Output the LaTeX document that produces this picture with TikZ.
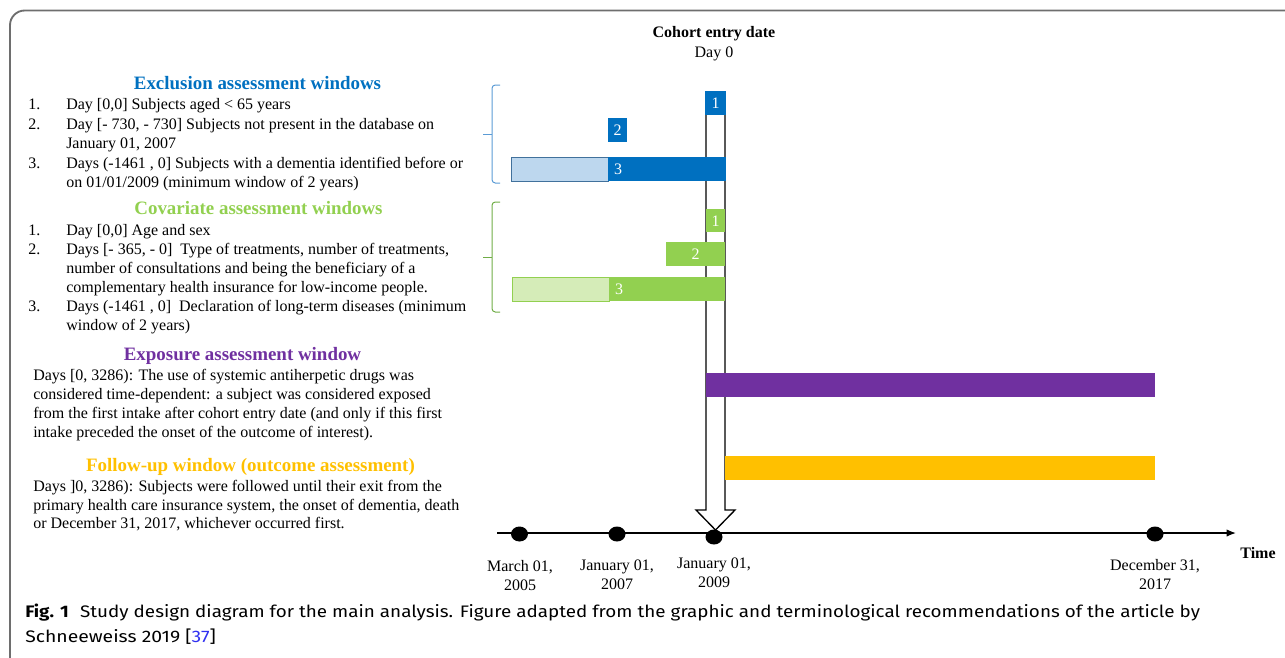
\documentclass[tikz,border=0pt]{standalone}
\usepackage{graphicx}
\usepackage{fontspec}
\setmainfont{Liberation Serif}
\newfontfamily\capfont{Fira Sans}
\usetikzlibrary{arrows.meta,shapes.geometric}
\definecolor{exblue}{HTML}{0070C0}
\definecolor{exlight}{HTML}{BDD7EE}
\definecolor{exborder}{HTML}{41719C}
\definecolor{brblue}{HTML}{5B9BD5}
\definecolor{covgreen}{HTML}{92D050}
\definecolor{covlight}{HTML}{D5ECB8}
\definecolor{brgreen}{HTML}{70AD47}
\definecolor{expurple}{HTML}{7030A0}
\definecolor{fuyellow}{HTML}{FFC000}
\definecolor{framegray}{HTML}{6E6E6E}
\definecolor{linkblue}{HTML}{3030F0}
\begin{document}
\begin{tikzpicture}[x=0.75pt,y=-0.75pt,
  body/.style={anchor=base west, inner sep=0pt, font=\fontsize{12}{14}\selectfont},
  head/.style={anchor=base, inner sep=0pt, font=\fontsize{14.2}{16}\selectfont\bfseries},
  num/.style={anchor=base, inner sep=0pt, text=white, font=\fontsize{12}{14}\selectfont},
  datelbl/.style={anchor=center, align=center, inner sep=0pt, font=\fontsize{12}{14.25}\selectfont},
  dot/.style={ellipse, fill=black, inner sep=0pt, minimum width=12.75pt, minimum height=11.25pt},
  brace/.style={line width=0.75pt, rounded corners=2.5pt},
  bararrow/.style={draw=black, fill=white, line width=1pt}
]
\useasboundingbox (0,0) rectangle (1285,657);
% frame
\draw[framegray, line width=1.4pt, rounded corners=11pt] (10,670) -- (10,10.5) -- (1300,10.5);

% title of axis
\node[anchor=base, inner sep=0pt, font=\fontsize{12}{14}\selectfont\bfseries] (cohort) at (714,37) {Cohort entry date};
\node[anchor=base, inner sep=0pt, font=\fontsize{12}{14}\selectfont] (day0) at (714,57) {Day 0};

% block arrow
\draw[bararrow] (706,92) -- (706,510) -- (696,510) -- (715.5,530) -- (735,510) -- (725,510) -- (725,92) -- cycle;

% exclusion bars
\fill[exblue] (705,91) rectangle (726,115);
\node[num] (e1) at (715.5,108) {1};
\fill[exblue] (608,118) rectangle (627,142);
\node[num] (e2) at (617.5,135.5) {2};
\draw[exborder, fill=exlight, line width=0.75pt] (511,157) rectangle (608,181);
\fill[exblue] (608,157) rectangle (726,181);
\node[num] (e3) at (618,174.5) {3};

% covariate bars
\fill[covgreen] (706,209) rectangle (725,232);
\node[num] (c1) at (715.5,226) {1};
\fill[covgreen] (666,242) rectangle (725,266);
\node[num] (c2) at (695.5,259.5) {2};
\draw[covgreen, fill=covlight, line width=0.75pt] (512,277) rectangle (609,301);
\fill[covgreen] (609,277) rectangle (725,301);
\node[num] (c3) at (619,294.5) {3};

% exposure and follow-up
\fill[expurple] (706,373) rectangle (1155,397);
\fill[fuyellow] (725,456) rectangle (1155,480);

% braces
\draw[brace, brblue] (500,85) -- (492,85) -- (492,183) -- (500,183);
\draw[brblue, line width=0.75pt] (483,134) -- (492,134);
\draw[brace, brgreen] (500,202) -- (492,202) -- (492,312) -- (500,312);
\draw[brgreen, line width=0.75pt] (483,257) -- (492,257);

% timeline
\coordinate (tstart) at (497,533);
\coordinate (tend) at (1236,533);
\draw[line width=1pt, -{Latex[length=7pt,width=5.5pt]}] (tstart) -- (tend);
\node[dot] (d1) at (519.5,534) {};
\node[dot] (d2) at (617,534) {};
\node[dot] (d3) at (714,537) {};
\node[dot] (d4) at (1155,534) {};
\node[datelbl] (l1) at (520,576) {March 01,\\2005};
\node[datelbl] (l2) at (617,574.5) {January 01,\\2007};
\node[datelbl] (l3) at (714,572.5) {January 01,\\2009};
\node[datelbl] (l4) at (1155,574.5) {December 31,\\2017};
\node[anchor=base, inner sep=0pt, font=\fontsize{12}{14}\selectfont\bfseries] (time) at (1258,558) {Time};

% exclusion text
\node[head, text=exblue] (exh) at (257.5,89) {Exclusion assessment windows};
\node[body] (ex1n) at (28,109) {1.};
\node[body] (ex1) at (66,109) {Day [0,0] Subjects aged < 65 years};
\node[body] (ex2n) at (28,129) {2.};
\node[body] (ex2) at (66,129) {Day [- 730, - 730] Subjects not present in the database on};
\node[body] (ex2b) at (66,148) {January 01, 2007};
\node[body] (ex3n) at (28,168) {3.};
\node[body] (ex3) at (66,168) {Days (-1461 , 0] Subjects with a dementia identified before or};
\node[body] (ex3b) at (66,187) {on 01/01/2009 (minimum window of 2 years)};

% covariate text
\node[head, text=covgreen] (cvh) at (258.5,214) {Covariate assessment windows};
\node[body] (cv1n) at (28,235) {1.};
\node[body] (cv1) at (66,235) {Day [0,0] Age and sex};
\node[body] (cv2n) at (28,254) {2.};
\node[body] (cv2) at (66,254) {Days [- 365, - 0]\ \ Type of treatments, number of treatments,};
\node[body] (cv2b) at (66,273) {number of consultations and being the beneficiary of a};
\node[body] (cv2c) at (66,292) {complementary health insurance for low-income people.};
\node[body] (cv3n) at (28,311) {3.};
\node[body] (cv3) at (66,311) {Days (-1461 , 0]\ \ Declaration of long-term diseases (minimum};
\node[body] (cv3b) at (66,330) {window of 2 years)};

% exposure text
\node[head, text=expurple] (exph) at (242.5,360) {Exposure assessment window};
\node[body] (exp1) at (33,380) {Days [0, 3286): The use of systemic antiherpetic drugs was};
\node[body] (exp2) at (33,399) {considered time-dependent: a subject was considered exposed};
\node[body] (exp3) at (33,418) {from the first intake after cohort entry date (and only if this first};
\node[body] (exp4) at (33,437) {intake preceded the onset of the outcome of interest).};

% follow-up text
\node[head, text=fuyellow] (fuh) at (250.5,471) {Follow-up window (outcome assessment)};
\node[body] (fu1) at (33,491) {Days ]0, 3286): Subjects were followed until their exit from the};
\node[body] (fu2) at (33,510) {primary health care insurance system, the onset of dementia, death};
\node[body] (fu3) at (33,528) {or December 31, 2017, whichever occurred first.};

% caption
\node[anchor=base west, inner sep=0pt, font=\capfont\fontsize{12.5}{16}\selectfont] (cap1) at (25,617)
  {\resizebox{881pt}{\height}{\textbf{Fig. 1}\hspace{0.6em}Study design diagram for the main analysis. Figure adapted from the graphic and terminological recommendations of the article by}};
\node[anchor=base west, inner sep=0pt, font=\capfont\fontsize{12.5}{16}\selectfont] (cap2) at (25,642)
  {\resizebox{143pt}{\height}{Schneeweiss 2019 [\textcolor{linkblue}{37}]}};
\end{tikzpicture}
\end{document}
